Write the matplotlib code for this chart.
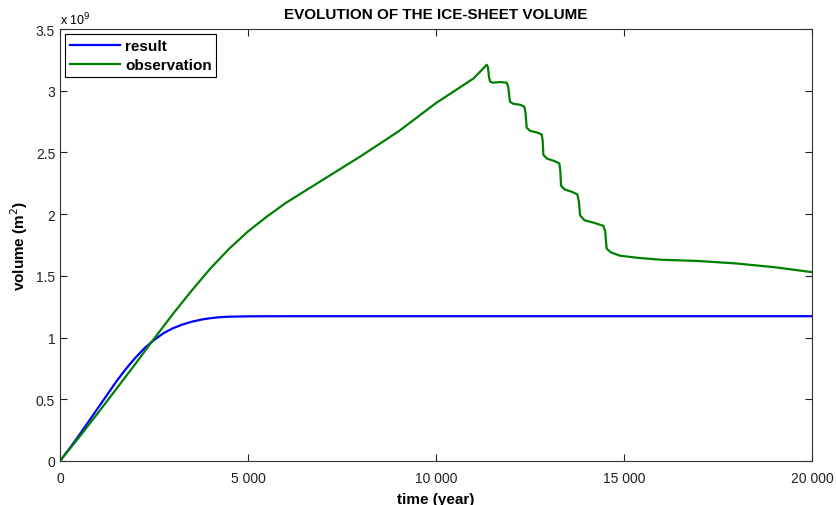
import numpy as np
import matplotlib.pyplot as plt
from matplotlib.ticker import FuncFormatter

plt.rcParams['font.family'] = ['Liberation Sans', 'DejaVu Sans']

# volumes in units of 1e9 m^2
t_result = [0, 250, 500, 750, 1000, 1250, 1500, 1750, 2000, 2250, 2500, 2750, 3000,
            3250, 3500, 3750, 4000, 4250, 4500, 5000, 6000, 10000, 15000, 20000]
v_result = [0, 0.1, 0.205, 0.315, 0.425, 0.535, 0.645, 0.745, 0.835, 0.915, 0.98, 1.035, 1.075,
            1.105, 1.128, 1.145, 1.157, 1.165, 1.169, 1.172, 1.173, 1.173, 1.173, 1.173]

t_obs = [0, 500, 1000, 1500, 2000, 2500, 3000, 3500, 4000, 4500, 5000, 5500, 6000,
         7000, 8000, 9000, 10000, 11000, 11348,
         11380, 11410, 11436, 11500, 11700, 11880, 11920, 11950, 11968, 12050, 12250, 12349,
         12380, 12400, 12412, 12500, 12700, 12810, 12835, 12848, 12855, 12950, 13150, 13280,
         13305, 13318, 13324, 13420, 13620, 13758, 13800, 13820, 13830, 13950, 14200, 14450,
         14500, 14525, 14540, 14650, 14894, 15400, 15957, 17000, 18000, 19000, 20000]
v_obs = [0, 0.19, 0.385, 0.585, 0.785, 0.99, 1.19, 1.38, 1.56, 1.72, 1.86, 1.98, 2.09,
         2.28, 2.47, 2.67, 2.90, 3.10, 3.21,
         3.19, 3.11, 3.075, 3.065, 3.07, 3.065, 3.03, 2.95, 2.91, 2.895, 2.885, 2.87,
         2.82, 2.74, 2.70, 2.675, 2.66, 2.645, 2.60, 2.52, 2.48, 2.45, 2.43, 2.41,
         2.35, 2.27, 2.23, 2.20, 2.18, 2.16, 2.10, 2.03, 1.99, 1.95, 1.93, 1.905,
         1.86, 1.76, 1.72, 1.69, 1.663, 1.645, 1.631, 1.62, 1.60, 1.57, 1.53]

x_ticks = [0, 5000, 10000, 15000, 20000]
y_ticks = [0, 0.5, 1, 1.5, 2, 2.5, 3, 3.5]

fig = plt.figure(figsize=(8.37, 5.06), dpi=100)
ax = fig.add_axes([0.0717, 0.087, 0.8985, 0.8537])

ax.plot(t_result, v_result, color=(0, 0, 1), lw=1.6, label='result')
ax.plot(t_obs, v_obs, color=(0, 0.5, 0), lw=1.6, label='observation')

ax.set_xlim(0, 20000)
ax.set_ylim(0, 3.5)
ax.set_xticks(x_ticks)
ax.set_yticks(y_ticks)
ax.xaxis.set_major_formatter(FuncFormatter(lambda v, p: '{:,}'.format(int(v)).replace(',', ' ')))
ax.yaxis.set_major_formatter(FuncFormatter(lambda v, p: '{:g}'.format(v)))
ax.tick_params(direction='in', top=True, right=True, length=5, labelsize=10,
               colors='#222222', width=0.8)
ax.tick_params(axis='x', pad=7)
for s in ax.spines.values():
    s.set_color('#333333')
    s.set_linewidth(0.8)

ax.text(0, 1.005, 'x 10$^9$', transform=ax.transAxes, fontsize=9, va='bottom', ha='left')
ax.set_title('EVOLUTION OF THE ICE-SHEET VOLUME', fontsize=11, fontweight='bold', pad=8)
ax.set_xlabel('time (year)', fontsize=11, fontweight='bold', labelpad=5)
ax.set_ylabel('volume (m$^2$)', fontsize=11, fontweight='bold', labelpad=4)

leg = ax.legend(loc='upper left', fancybox=False, framealpha=1, edgecolor='black',
                prop={'weight': 'bold', 'size': 11}, handlelength=3.3, borderaxespad=0.35,
                handletextpad=0.3, borderpad=0.3, labelspacing=0.35)
leg.get_frame().set_linewidth(0.8)

fig.savefig('out.png', dpi=100)
